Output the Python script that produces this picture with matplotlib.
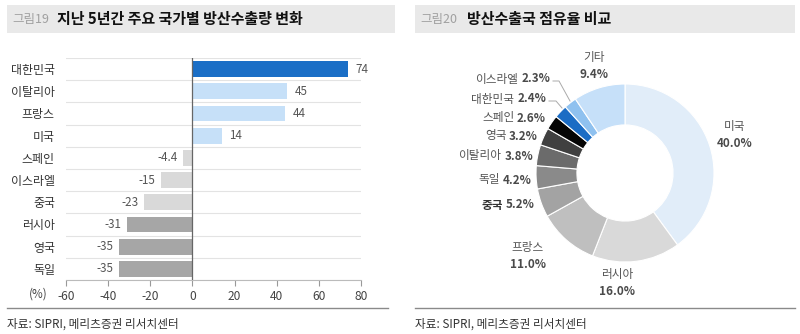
import numpy as np
import matplotlib
matplotlib.use("Agg")
import matplotlib.pyplot as plt
from matplotlib.patches import Rectangle
from matplotlib.lines import Line2D

plt.rcParams['font.family'] = ['Noto Sans CJK KR', 'DejaVu Sans']

# left chart: change in arms exports over last 5 years (%)
countries = ['대한민국', '이탈리아', '프랑스', '미국', '스페인', '이스라엘', '중국', '러시아', '영국', '독일']
changes = [74, 45, 44, 14, -4.4, -15, -23, -31, -35, -35]
change_labels = ['74', '45', '44', '14', '-4.4', '-15', '-23', '-31', '-35', '-35']
bar_colors = ['#1a6ec6', '#c6e0f8', '#c6e0f8', '#c6e0f8', '#d9d9d9', '#d9d9d9', '#d9d9d9',
              '#a6a6a6', '#a6a6a6', '#a6a6a6']
xticks = [-60, -40, -20, 0, 20, 40, 60, 80]

# right chart: share of arms exports (%)
share_names = ['미국', '러시아', '프랑스', '중국', '독일', '이탈리아', '영국', '스페인', '대한민국', '이스라엘', '기타']
shares = [40.0, 16.0, 11.0, 5.2, 4.2, 3.8, 3.2, 2.6, 2.4, 2.3, 9.4]
pie_colors = ['#e1edf9', '#d9d9d9', '#bfbfbf', '#a3a3a3', '#8a8a8a', '#6b6b6b', '#404040',
              '#050505', '#1b6cc4', '#8fc1ef', '#c6e0f9']

W, H = 800, 334
fig = plt.figure(figsize=(W / 100, H / 100), dpi=100)


def px(x, y):
    return x / W, 1 - y / H


# title bars
for x0, x1, tag, title, tx in [(7, 395, '그림19', '지난 5년간 주요 국가별 방산수출량 변화', 57),
                               (415, 795, '그림20', '방산수출국 점유율 비교', 467)]:
    fig.patches.append(Rectangle(px(x0, 33), (x1 - x0) / W, 28 / H, transform=fig.transFigure,
                                 facecolor='#e9e9e9', edgecolor='none', zorder=0))
    fig.text(*px(x0 + 5, 19), tag, fontsize=9, color='#a0a0a0', va='center', ha='left')
    fig.text(*px(tx, 19), title, fontsize=10.8, color='#111111', fontweight='bold', va='center', ha='left')
    fig.lines.append(Line2D([x0 / W, (x1 - 7) / W if x0 < 400 else x1 / W], [1 - 308 / H] * 2,
                            transform=fig.transFigure, color='#8a8a8a', lw=1))
    fig.text(*px(x0, 324), '자료: SIPRI, 메리츠증권 리서치센터', fontsize=8.4, color='#333333',
             va='center', ha='left')

# bar chart
ax = fig.add_axes([66 / W, 1 - 280 / H, (361 - 66) / W, (280 - 58) / H])
y = np.arange(len(countries))
ax.barh(y, changes, height=0.72, color=bar_colors, zorder=2)
ax.set_ylim(len(countries) - 0.5, -0.5)
ax.set_xlim(-60, 80)
for b in np.arange(-0.5, len(countries), 1.0):
    ax.axhline(b, color='#e3e3e3', lw=0.8, zorder=1)
ax.axvline(0, color='#666666', lw=0.9, zorder=3)
for yi, v, lab in zip(y, changes, change_labels):
    if v >= 0:
        ax.text(v + 6.5, yi, lab, ha='center', va='center', fontsize=8.4, color='#555555')
    else:
        ax.text(v - 2.5, yi, lab, ha='right', va='center', fontsize=8.4, color='#555555')
ax.set_yticks(y)
ax.set_yticklabels(countries, fontsize=8.6, color='#333333')
ax.tick_params(axis='y', length=0, pad=8)
ax.set_xticks(xticks)
ax.set_xticklabels([str(t) for t in xticks], fontsize=8.6, color='#444444')
ax.tick_params(axis='x', length=4, color='#999999', pad=3)
for s in ['top', 'right', 'left']:
    ax.spines[s].set_visible(False)
ax.spines['bottom'].set_color('#bbbbbb')
fig.text(*px(38, 294), '(%)', fontsize=8.4, color='#444444', ha='center', va='center')

# donut chart
cx, cy, r = 625, 173, 89
pax = fig.add_axes([(cx - r) / W, 1 - (cy + r) / H, 2 * r / W, 2 * r / H])
pax.pie(shares, colors=pie_colors, startangle=90, counterclock=False, radius=1,
        wedgeprops=dict(width=0.46, edgecolor='white', linewidth=0.8))
pax.set_xlim(-1, 1)
pax.set_ylim(-1, 1)
pax.set_aspect('auto')
pax.axis('off')


def d(x, y):
    return (x - cx) / r, (cy - y) / r


# two-line labels
for name, val, (lx, ly) in [('미국', 40.0, (735, 135)), ('러시아', 16.0, (617, 283)),
                            ('프랑스', 11.0, (528, 256)), ('기타', 9.4, (594, 66))]:
    xx, yy = d(lx, ly)
    pax.text(xx, yy + 0.09, name, ha='center', va='center', fontsize=8.4, color='#555555', clip_on=False)
    pax.text(xx, yy - 0.09, f'{val:.1f}%', ha='center', va='center', fontsize=8.4, color='#4a4a4a',
             fontweight='bold', clip_on=False)

# side labels
side = {'중국': (535, 205), '독일': (532, 180), '이탈리아': (533, 156), '영국': (538, 136),
        '스페인': (546, 118), '대한민국': (546, 99), '이스라엘': (550, 79)}
for name, (lx, ly) in side.items():
    val = shares[share_names.index(name)]
    xx, yy = d(lx, ly)
    t = pax.text(xx, yy, f'{val:.1f}%', ha='right', va='center', fontsize=8.4, color='#4a4a4a',
                 fontweight='bold', clip_on=False)
    pax.annotate(name, xy=(0, 0.5), xycoords=t, xytext=(-2, 0), textcoords='offset points',
                 ha='right', va='center', fontsize=8.4,
                 color='#333333' if name == '중국' else '#555555',
                 fontweight='bold' if name == '중국' else 'normal', annotation_clip=False)

# leader lines
for pts in [[(553, 81), (559, 81), (570, 101)], [(549, 101), (556, 101), (562, 108)]]:
    xs, ys = zip(*[d(a, b) for a, b in pts])
    pax.plot(xs, ys, color='#aaaaaa', lw=0.7, clip_on=False)

fig.savefig('out.png', dpi=100)
